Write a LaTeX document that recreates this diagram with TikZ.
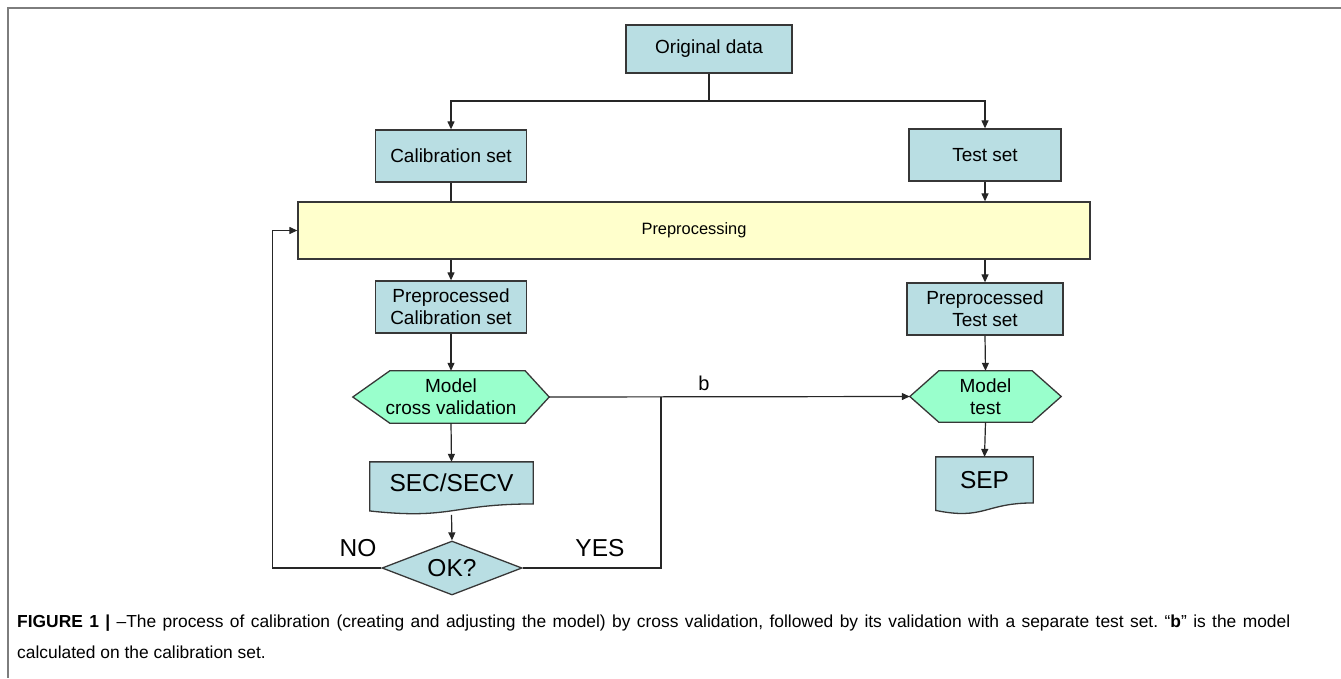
\documentclass[tikz,border=0pt]{standalone}
\usepackage{fontspec}
\setmainfont{Liberation Sans}
\usetikzlibrary{arrows.meta,shapes.geometric,backgrounds}

\definecolor{boxblue}{RGB}{185,222,227}
\definecolor{hexgreen}{RGB}{153,255,204}
\definecolor{prepyellow}{RGB}{255,255,204}
\definecolor{edgegray}{RGB}{55,55,55}
\definecolor{framegray}{RGB}{125,125,125}

\tikzset{
  box/.style={draw=edgegray, line width=1.3pt, fill=boxblue, align=center,
    inner sep=0pt, font=\fontsize{19}{22}\selectfont},
  shapetext/.style={inner sep=0pt, align=center, font=\fontsize{19}{22}\selectfont},
  outline/.style={draw=edgegray, line width=1.3pt},
  decision/.style={diamond, aspect=2.5, draw=edgegray, line width=1.3pt, fill=boxblue,
    inner sep=0pt, font=\fontsize{24.5}{28}\selectfont},
  arr/.style={-{Triangle[length=8pt,width=7pt]}, line width=1.2pt, draw=black!85},
  link/.style={line width=1.2pt, draw=black!85},
  lbl/.style={inner sep=0pt, font=\fontsize{24.5}{28}\selectfont},
  captext/.style={inner sep=0pt, anchor=base west, text width=1273pt, align=justify,
    font=\fontsize{17.4}{31}\selectfont\frenchspacing}
}

\begin{document}
\begin{tikzpicture}[x=1pt, y=-1pt]
\useasboundingbox (0,0) rectangle (1341,678);
% frame round the figure
\draw[framegray, line width=1.5pt] (1341,8) -- (8,8) -- (8,678);

% boxes
\node[box, minimum width=166pt, minimum height=48pt] (orig) at (709,49) {Original data};
\node[box, minimum width=151pt, minimum height=52pt] (calib) at (451,156) {Calibration set};
\node[box, minimum width=152pt, minimum height=52pt] (test) at (985,155) {Test set};
\node[box, fill=prepyellow, minimum width=792pt, minimum height=57pt,
  font=\fontsize{16.4}{20}\selectfont] (prep) at (694,230.5) {Preprocessing};
\node[box, minimum width=151pt, minimum height=52pt] (pcalib) at (451,307) {Preprocessed\\Calibration set};
\node[box, minimum width=156pt, minimum height=52pt] (ptest) at (985,309) {Preprocessed\\Test set};

% hexagons and documents: text first, outline behind
\node[shapetext, minimum width=196pt, minimum height=52pt] (mcv) at (451,397) {Model\\cross validation};
\node[shapetext, minimum width=151pt, minimum height=51pt] (mtest) at (985.5,396.5) {Model\\test};
\node[shapetext, minimum width=163pt, minimum height=41.7pt,
  font=\fontsize{24.5}{28}\selectfont] (secv) at (451.5,482.9) {SEC/SECV};
\node[shapetext, minimum width=97pt, minimum height=45.7pt,
  font=\fontsize{24.5}{28}\selectfont] (sep) at (984.5,479.9) {SEP};
\node[decision, minimum width=140pt, minimum height=54pt] (ok) at (452,568) {OK?};

\begin{scope}[on background layer]
\filldraw[outline, fill=hexgreen] (mcv.west) -- ([xshift=37pt]mcv.north west) -- ([xshift=-24pt]mcv.north east)
  -- (mcv.east) -- ([xshift=-24pt]mcv.south east) -- ([xshift=37pt]mcv.south west) -- cycle;
\filldraw[outline, fill=hexgreen] (mtest.west) -- ([xshift=29pt]mtest.north west) -- ([xshift=-29pt]mtest.north east)
  -- (mtest.east) -- ([xshift=-29pt]mtest.south east) -- ([xshift=29pt]mtest.south west) -- cycle;
\filldraw[outline, fill=boxblue] (secv.south west) |- (secv.north east) -- (secv.south east)
  .. controls (secv.south) and ([yshift=-16pt]secv.south) .. ([yshift=-7pt]secv.south west) -- cycle;
\filldraw[outline, fill=boxblue] (sep.south west) |- (sep.north east) -- (sep.south east)
  .. controls (sep.south) and ([yshift=-17.4pt]sep.south) .. ([yshift=-7.5pt]sep.south west) -- cycle;
\end{scope}

% connectors
\coordinate (split) at (709,101);
\coordinate (join) at (661,397);
\draw[link] (orig.south) -- (split);
\draw[arr] (split) -| (calib.north);
\draw[arr] (split) -| (test.north);
\draw[link] (calib.south) -- (calib.south |- prep.north);
\draw[arr] (test.south) -- (test.south |- prep.north);
\draw[arr] (pcalib.north |- prep.south) -- (pcalib.north);
\draw[arr] (ptest.north |- prep.south) -- (ptest.north);
\draw[arr] (pcalib.south) -- (mcv.north);
\draw[arr] (ptest.south) -- (mtest.north);
\draw[arr] (mcv.south) -- (secv.north);
\draw[arr] (mtest.south) -- (sep.north);
\draw[arr] ([yshift=-11pt]secv.south) -- (ok.north);
\draw[arr] (mcv.east) -- (mtest.west);
\draw[link] (ok.east) -| (join);
\draw[arr] (ok.west) -| ([xshift=-25pt]prep.west) -- (prep.west);

% labels
\node[lbl, font=\fontsize{20}{24}\selectfont] (blbl) at (704,383) {b};
\node[lbl] (yes) at (600,548) {YES};
\node[lbl] (no) at (358,548) {NO};

% caption
\node[captext] (cap) at (17,627) {\textbf{FIGURE 1 |} –The process of calibration (creating and adjusting the model) by cross validation, followed by its validation with a separate test set. “\textbf{b}” is the model\linebreak
calculated on the calibration set.};
\end{tikzpicture}
\end{document}
